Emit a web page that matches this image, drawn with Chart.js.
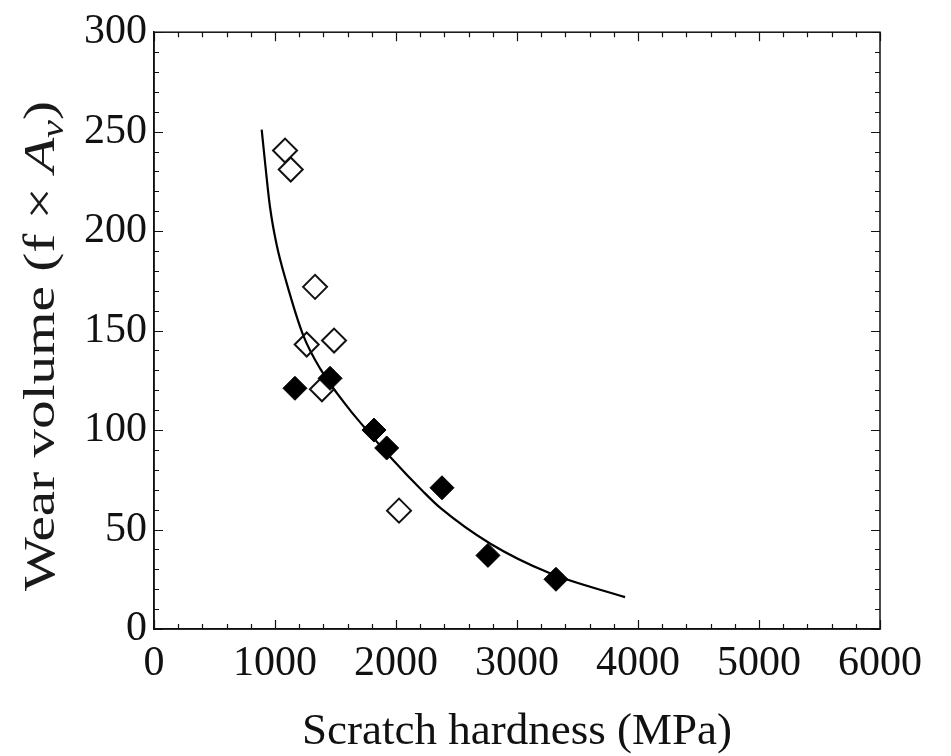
<!DOCTYPE html>
<html>
<head>
<meta charset="utf-8">
<script src="https://cdn.jsdelivr.net/npm/chart.js@4"></script>
<style>
  html, body { margin: 0; padding: 0; background: #fff; }
  #wrap { width: 951px; height: 756px; }
</style>
</head>
<body>
<div id="wrap"><canvas id="chart"></canvas></div>
<script>
// ---------------------------------------------------------------------------
// Data
// ---------------------------------------------------------------------------
const openX = [1083, 1130, 1331, 1262, 1488, 1388, 2025];
const openY = [240.5, 231, 172, 143, 145, 120.5, 59.5];

const filledX = [1165, 1455, 1818, 1923, 2380, 2760, 3322];
const filledY = [121, 126, 100, 91, 71, 37, 25];

const curveX = [890, 917, 959, 1014, 1091, 1231, 1372, 1620, 1702, 1960, 2226, 2364, 2777, 3273, 3893];
const curveY = [251, 235, 212, 193, 175, 148, 131, 110, 104, 86, 69, 61, 43, 28, 16];

const xTicks = [0, 1000, 2000, 3000, 4000, 5000, 6000];
const yTicks = [0, 50, 100, 150, 200, 250, 300];

const SERIF = "'Liberation Serif', 'Times New Roman', serif";

const toPoints = (xs, ys) => xs.map((x, i) => ({ x, y: ys[i] }));

// ---------------------------------------------------------------------------
// Plugins: frame with inward ticks on all sides, rotated y title
// ---------------------------------------------------------------------------
const frameTicks = {
  id: "frameTicks",
  afterDraw(chart) {
    const { ctx, chartArea: a, scales } = chart;
    const xs = scales.x, ys = scales.y;
    ctx.save();
    ctx.strokeStyle = "#111";
    ctx.lineWidth = 1.5;
    ctx.strokeRect(a.left, a.top, a.right - a.left, a.bottom - a.top);
    ctx.lineWidth = 1.2;
    ctx.beginPath();
    for (let v = xs.min; v <= xs.max; v += 200) {
      const px = Math.round(xs.getPixelForValue(v)) + 0.5;
      const len = v % 1000 === 0 ? 9 : 5;
      ctx.moveTo(px, a.bottom); ctx.lineTo(px, a.bottom - len);
      ctx.moveTo(px, a.top); ctx.lineTo(px, a.top + len);
    }
    for (let v = ys.min; v <= ys.max; v += 10) {
      const py = Math.round(ys.getPixelForValue(v)) + 0.5;
      const len = v % 50 === 0 ? 9 : 5;
      ctx.moveTo(a.left, py); ctx.lineTo(a.left + len, py);
      ctx.moveTo(a.right, py); ctx.lineTo(a.right - len, py);
    }
    ctx.stroke();
    ctx.restore();
  },
};

const yTitle = {
  id: "yTitle",
  afterDraw(chart) {
    const ctx = chart.ctx;
    const parts = [
      { t: "Wear volume (f \u00d7 ", f: `44px ${SERIF}`, dy: 0 },
      { t: "A", f: `italic 44px ${SERIF}`, dy: 0 },
      { t: "v", f: `italic 31px ${SERIF}`, dy: 9 },
      { t: ")", f: `44px ${SERIF}`, dy: 0 },
    ];
    let total = 0;
    parts.forEach((p) => { ctx.font = p.f; p.w = ctx.measureText(p.t).width; total += p.w; });
    const length = 490;           // span of the title along the axis
    const stretch = length / total;
    ctx.save();
    ctx.translate(54, 346);
    ctx.rotate(-Math.PI / 2);
    ctx.scale(stretch, 1);
    ctx.fillStyle = "#1a1a1a";
    ctx.textBaseline = "alphabetic";
    let x = -total / 2;
    parts.forEach((p) => {
      ctx.font = p.f;
      ctx.fillText(p.t, x, p.dy);
      x += p.w;
    });
    ctx.restore();
  },
};

// ---------------------------------------------------------------------------
// Chart
// ---------------------------------------------------------------------------
new Chart(document.getElementById("chart"), {
  type: "scatter",
  data: {
    datasets: [
      {
        label: "Open",
        data: toPoints(openX, openY),
        pointStyle: "rectRot",
        pointRadius: 12,
        pointBorderWidth: 2,
        pointBorderColor: "#111",
        pointBackgroundColor: "rgba(0,0,0,0)",
        order: 1,
      },
      {
        label: "Filled",
        data: toPoints(filledX, filledY),
        pointStyle: "rectRot",
        pointRadius: 12,
        pointBorderWidth: 1,
        pointBorderColor: "#000",
        pointBackgroundColor: "#000",
        order: 0,
      },
      {
        label: "Fit",
        data: toPoints(curveX, curveY),
        showLine: true,
        pointRadius: 0,
        borderColor: "#000",
        borderWidth: 2.2,
        cubicInterpolationMode: "monotone",
        order: 2,
      },
    ],
  },
  options: {
    responsive: true,
    maintainAspectRatio: false,
    animation: false,
    layout: { padding: { left: 0, right: 71, top: 28, bottom: 0 } },
    plugins: { legend: { display: false }, tooltip: { enabled: false } },
    scales: {
      x: {
        type: "linear",
        min: 0,
        max: 6000,
        afterBuildTicks: (s) => { s.ticks = xTicks.map((v) => ({ value: v })); },
        afterFit: (s) => { s.height = 127; },
        grid: { display: false, drawTicks: false },
        border: { display: true, color: "#111", width: 1.5 },
        ticks: {
          color: "#111",
          padding: 10,
          maxRotation: 0,
          font: { family: SERIF, size: 42 },
          callback: (v) => String(v),
        },
        title: {
          display: true,
          text: "Scratch hardness (MPa)",
          color: "#111",
          padding: { top: 0, bottom: 1 },
          font: { family: SERIF, size: 45, lineHeight: 1 },
        },
      },
      y: {
        type: "linear",
        min: 0,
        max: 300,
        afterBuildTicks: (s) => { s.ticks = yTicks.map((v) => ({ value: v })); },
        afterFit: (s) => { s.width = 154; },
        grid: { display: false, drawTicks: false },
        border: { display: true, color: "#111", width: 1.5 },
        ticks: { color: "#111", padding: 7, font: { family: SERIF, size: 42 }, callback: (v) => String(v) },
      },
    },
  },
  plugins: [frameTicks, yTitle],
});
</script>
</body>
</html>
